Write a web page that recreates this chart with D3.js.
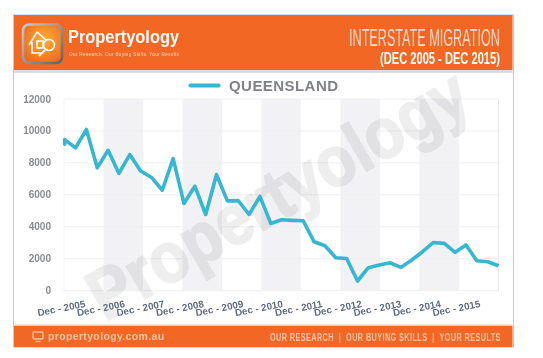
<!DOCTYPE html>
<html><head><meta charset="utf-8">
<script src="https://cdn.jsdelivr.net/npm/d3@7"></script>
<style>html,body{margin:0;padding:0;background:#fff}svg{display:block;filter:blur(.35px)}text{font-family:"Liberation Sans",Arial,sans-serif;white-space:pre}</style>
</head><body><div id="c"></div>
<script>
const periods=["Dec - 2005","Dec - 2006","Dec - 2007","Dec - 2008","Dec - 2009","Dec - 2010","Dec - 2011","Dec - 2012","Dec - 2013","Dec - 2014","Dec - 2015"];
const yTicks=[0,2000,4000,6000,8000,10000,12000];
const startTail=9170;
const queensland=[9460,8940,10090,7690,8790,7340,8520,7500,7090,6290,8270,5460,6540,4770,7270,5620,5640,4770,5900,4210,4440,4400,4375,3060,2815,2065,2020,607,1440,1606,1750,1460,1920,2440,3020,2960,2400,2860,1880,1815,1565];
const W=543,H=358,orange="#f26724",blue="#36b7d1";
const svg=d3.select("#c").append("svg").attr("width",W).attr("height",H);
const defs=svg.append("defs");
const g1=defs.append("radialGradient").attr("id","logoG").attr("cx","55%").attr("cy","40%").attr("r","65%");
g1.append("stop").attr("offset","0").attr("stop-color","#fbb034");g1.append("stop").attr("offset","1").attr("stop-color","#ee6a20");
const g2=defs.append("linearGradient").attr("id","frameG").attr("x1",0).attr("y1",0).attr("x2",1).attr("y2",1);
g2.append("stop").attr("offset","0").attr("stop-color","#c9cbcc");g2.append("stop").attr("offset","1").attr("stop-color","#5f6264");
// squeeze a text horizontally so that it ends at xRight and is `width` wide
function fitRight(sel,xRight,yBase,width){
  const n=sel.node().getComputedTextLength();
  sel.attr("text-anchor","start").attr("transform",`translate(${xRight-width},${yBase}) scale(${width/n},1)`);
}

// frame
svg.append("rect").attr("x",13.5).attr("y",15).attr("width",500).attr("height",332).attr("fill","#fff").attr("stroke","#b4c8ec").attr("stroke-width",1);
svg.append("rect").attr("x",14).attr("y",15).attr("width",498.5).attr("height",55).attr("fill",orange);
svg.append("rect").attr("x",14).attr("y",70).attr("width",498.5).attr("height",3).attr("fill","#dcdcdc");
svg.append("rect").attr("x",14).attr("y",324.5).attr("width",498.5).attr("height",1.5).attr("fill","#d9d0c8");
svg.append("rect").attr("x",14).attr("y",326).attr("width",498.5).attr("height",21).attr("fill",orange);

// plot
const plotLeft=64,plotRight=498.5,plotTop=99,plotBottom=290.7;
const y=d3.scaleLinear().domain([0,12000]).range([plotBottom,plotTop]);
const band=d3.scaleBand().domain(periods).range([plotLeft,plotRight]);
const x=d3.scaleLinear().domain([0,queensland.length-1]).range([plotLeft+.7,plotRight]);
const plot=svg.append("g");
plot.selectAll("rect.b").data(periods.filter((d,i)=>i%2==1)).join("rect").attr("class","b")
 .attr("x",d=>band(d)).attr("y",plotTop).attr("width",band.bandwidth()).attr("height",plotBottom-plotTop).attr("fill","#f2f2f4");
plot.selectAll("line.g").data(yTicks).join("line").attr("class","g")
 .attr("x1",plotLeft).attr("x2",plotRight).attr("y1",d=>y(d)).attr("y2",d=>y(d)).attr("stroke","#efeff1").attr("stroke-width",1);
plot.append("line").attr("x1",plotLeft).attr("x2",plotLeft).attr("y1",plotTop).attr("y2",plotBottom).attr("stroke","#f3f3f5");
plot.append("line").attr("x1",plotRight).attr("x2",plotRight).attr("y1",plotTop).attr("y2",plotBottom).attr("stroke","#e6e8ee");

// watermark
svg.append("text").text("Propertyology").attr("transform","translate(105,322) rotate(-30)")
 .attr("font-size",71).attr("font-weight",700).attr("fill","#eeeeee").attr("stroke","#eeeeee").attr("stroke-width",2).attr("stroke-linejoin","round")
 .style("mix-blend-mode","multiply").attr("textLength",427).attr("lengthAdjust","spacingAndGlyphs");

// line
const line=d3.line().x((d,i)=>x(i)).y(d=>y(d)).curve(d3.curveLinear);
svg.append("path").attr("d",`M${x(0)},${y(startTail)}L${x(0)},${y(queensland[0])}`).attr("stroke",blue).attr("stroke-width",3.6).attr("stroke-linecap","round").attr("fill","none");
svg.append("path").datum(queensland).attr("d",line).attr("fill","none").attr("stroke",blue).attr("stroke-width",3.6).attr("stroke-linejoin","round");

// axes labels
svg.selectAll("text.yl").data(yTicks).join("text").attr("class","yl").text(d=>d)
 .attr("x",51).attr("y",d=>y(d)+3.5).attr("text-anchor","end").attr("font-size",10).attr("font-weight",700).attr("fill","#8b8c90");
svg.selectAll("text.xl").data(periods).join("text").attr("class","xl").text(d=>d)
 .attr("transform",d=>`translate(${band(d)+band.bandwidth()/2+2},307) rotate(-11)`).attr("text-anchor","end")
 .attr("font-size",9.8).attr("font-weight",700).attr("fill","#5d6b80");

// legend
svg.append("line").attr("x1",190.5).attr("x2",218.5).attr("y1",85.5).attr("y2",85.5).attr("stroke",blue).attr("stroke-width",4).attr("stroke-linecap","round");
svg.append("text").text("QUEENSLAND").attr("x",229).attr("y",91).attr("font-size",15).attr("font-weight",700).attr("fill","#808285").attr("textLength",109);

// header left
svg.append("rect").attr("x",23).attr("y",24.5).attr("width",39).attr("height",38.5).attr("rx",6).attr("fill","url(#logoG)").attr("stroke","url(#frameG)").attr("stroke-width",2.5);
const ic=svg.append("g").attr("fill","none").attr("stroke","#fff").attr("stroke-width",1.5);
ic.append("path").attr("d","M29,45 L37,32 L46,40 M32,42 V53 H42");
ic.append("rect").attr("x",37).attr("y",41).attr("width",6).attr("height",7);
ic.append("circle").attr("cx",49).attr("cy",45).attr("r",5.5);
ic.append("path").attr("d","M45,50 L39,56").attr("stroke-width",2);
svg.append("text").text("Propertyology").attr("x",68).attr("y",43).attr("font-size",19).attr("font-weight",700).attr("fill","#fff").attr("textLength",111).attr("lengthAdjust","spacingAndGlyphs");
svg.append("text").text("Our Research. Our Buying Skills. Your Results").attr("x",69).attr("y",55.5).attr("font-size",4.6).attr("fill","#fbd9c4").attr("textLength",110);

// header right
svg.append("text").text("INTERSTATE MIGRATION").attr("font-size",23.5).attr("fill","#fbd9c6")
 .style("font-family","'Liberation Sans Narrow','Liberation Sans'").call(fitRight,500,45.5,151);
svg.append("text").text("(DEC 2005 - DEC 2015)").attr("font-size",17).attr("font-weight",700).attr("fill","#fff")
 .style("font-family","'Liberation Sans Narrow','Liberation Sans'").call(fitRight,500,63.5,120);

// footer
const mon=svg.append("g").attr("fill","none").attr("stroke","#f9c3a4").attr("stroke-width",1.3);
mon.append("rect").attr("x",33).attr("y",332).attr("width",10).attr("height",7).attr("rx",1);
mon.append("path").attr("d","M35.5,341.5H40.5");
svg.append("text").text("propertyology.com.au").attr("x",48).attr("y",340).attr("font-size",10.5).attr("font-weight",700).attr("fill","#f9c3a4").attr("letter-spacing",.9).attr("textLength",117);
svg.append("text").text("OUR RESEARCH  |  OUR BUYING SKILLS  |  YOUR RESULTS").attr("font-size",11).attr("font-weight",700).attr("fill","#f9c3a4").attr("letter-spacing",.6)
 .style("font-family","'Liberation Sans Narrow','Liberation Sans'").call(fitRight,501,340.5,231);
</script></body></html>
